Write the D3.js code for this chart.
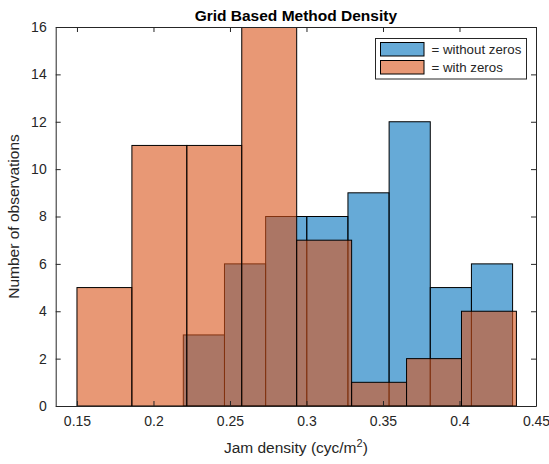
<!DOCTYPE html>
<html>
<head>
<meta charset="utf-8">
<script src="https://cdn.jsdelivr.net/npm/d3@7"></script>
<style>
  html, body { margin: 0; padding: 0; background: #fff; }
  svg { display: block; font-family: Arial, "Liberation Sans", Helvetica, sans-serif; }
</style>
</head>
<body>
<svg id="chart" width="549" height="464"></svg>
<script>
// ---- data ----
const seriesNames = ["= without zeros", "= with zeros"];
const withoutZerosEdges = [0.2195, 0.2464, 0.2733, 0.3002, 0.3271, 0.3540, 0.3809, 0.4078, 0.4347];
const withoutZerosCounts = [3, 6, 8, 8, 9, 12, 5, 6];
const withZerosEdges = [0.1500, 0.1859, 0.2218, 0.2577, 0.2936, 0.3295, 0.3654, 0.4013, 0.4372];
const withZerosCounts = [5, 11, 11, 16, 7, 1, 2, 4];
const xTicks = [0.15, 0.2, 0.25, 0.3, 0.35, 0.4, 0.45];
const xTickLabels = ["0.15", "0.2", "0.25", "0.3", "0.35", "0.4", "0.45"];
const yTicks = [0, 2, 4, 6, 8, 10, 12, 14, 16];
const titleText = "Grid Based Method Density";
const yLabelText = "Number of observations";

// ---- layout ----
const svg = d3.select("#chart");
const L = 55.7, R = 536, T = 27, B = 406;
const axisColor = "#262626";
const x = d3.scaleLinear().domain([0.1361, 0.45]).range([L, R]);
const y = d3.scaleLinear().domain([0, 16]).range([B, T]);

svg.append("defs").append("clipPath").attr("id", "clip")
  .append("rect").attr("x", L).attr("y", T).attr("width", R - L).attr("height", B - T);

const toBins = (edges, counts) => counts.map((c, i) => ({ x0: edges[i], x1: edges[i + 1], c }));

const plot = svg.append("g").attr("clip-path", "url(#clip)");
function drawHist(bins, color) {
  plot.append("g").selectAll("rect").data(bins).join("rect")
    .attr("x", d => x(d.x0))
    .attr("y", d => y(d.c))
    .attr("width", d => x(d.x1) - x(d.x0))
    .attr("height", d => y(0) - y(d.c))
    .attr("fill", color)
    .attr("fill-opacity", 0.6)
    .attr("stroke", "#000")
    .attr("stroke-width", 1);
}
drawHist(toBins(withoutZerosEdges, withoutZerosCounts), "#0072BD");
drawHist(toBins(withZerosEdges, withZerosCounts), "#D95319");

// ---- axes ----
const tickLen = 5;
const xAxisB = d3.axisBottom(x).tickValues(xTicks).tickFormat((d, i) => xTickLabels[i]).tickSizeInner(-tickLen).tickSizeOuter(0).tickPadding(10);
const xAxisT = d3.axisTop(x).tickValues(xTicks).tickFormat("").tickSizeInner(-tickLen).tickSizeOuter(0);
const yAxisL = d3.axisLeft(y).tickValues(yTicks).tickSizeInner(-tickLen).tickSizeOuter(0).tickPadding(9);
const yAxisR = d3.axisRight(y).tickValues(yTicks).tickFormat("").tickSizeInner(-tickLen).tickSizeOuter(0);

function styleAxis(g) {
  g.selectAll("path").attr("stroke", axisColor);
  g.selectAll("line").attr("stroke", axisColor);
  g.selectAll("text").attr("fill", axisColor).style("font-size", "14px").style("font-family", "Arial, 'Liberation Sans', sans-serif");
}
svg.append("g").attr("transform", `translate(0,${B})`).call(xAxisB).call(styleAxis);
svg.append("g").attr("transform", `translate(0,${T})`).call(xAxisT).call(styleAxis);
svg.append("g").attr("transform", `translate(${L},0)`).call(yAxisL).call(styleAxis);
svg.append("g").attr("transform", `translate(${R},0)`).call(yAxisR).call(styleAxis);

// ---- title and labels ----
svg.append("text").attr("x", (L + R) / 2).attr("y", 21).attr("text-anchor", "middle")
  .attr("fill", "#000").style("font-size", "15.5px").style("font-weight", "bold").text(titleText);

const xl = svg.append("text").attr("x", (L + R) / 2).attr("y", 453).attr("text-anchor", "middle")
  .attr("fill", axisColor).style("font-size", "15.5px");
xl.append("tspan").text("Jam density (cyc/m");
xl.append("tspan").attr("dy", -6).style("font-size", "11px").text("2");
xl.append("tspan").attr("dy", 6).text(")");

svg.append("text").attr("transform", `translate(19,${(T + B) / 2}) rotate(-90)`).attr("text-anchor", "middle")
  .attr("fill", axisColor).style("font-size", "15.5px").text(yLabelText);

// ---- legend ----
const lg = svg.append("g");
lg.append("rect").attr("x", 375.5).attr("y", 38.5).attr("width", 151).attr("height", 40.5)
  .attr("fill", "#fff").attr("stroke", "#262626").attr("stroke-width", 1);
const legendColors = ["#0072BD", "#D95319"];
seriesNames.forEach((name, i) => {
  const yy = 42.5 + i * 18;
  lg.append("rect").attr("x", 380.5).attr("y", yy).attr("width", 43.5).attr("height", 13.5)
    .attr("fill", legendColors[i]).attr("fill-opacity", 0.6).attr("stroke", "#000");
  lg.append("text").attr("x", 431.5).attr("y", yy + 11.5).attr("fill", axisColor)
    .style("font-size", "13.3px").text(name);
});
</script>
</body>
</html>
